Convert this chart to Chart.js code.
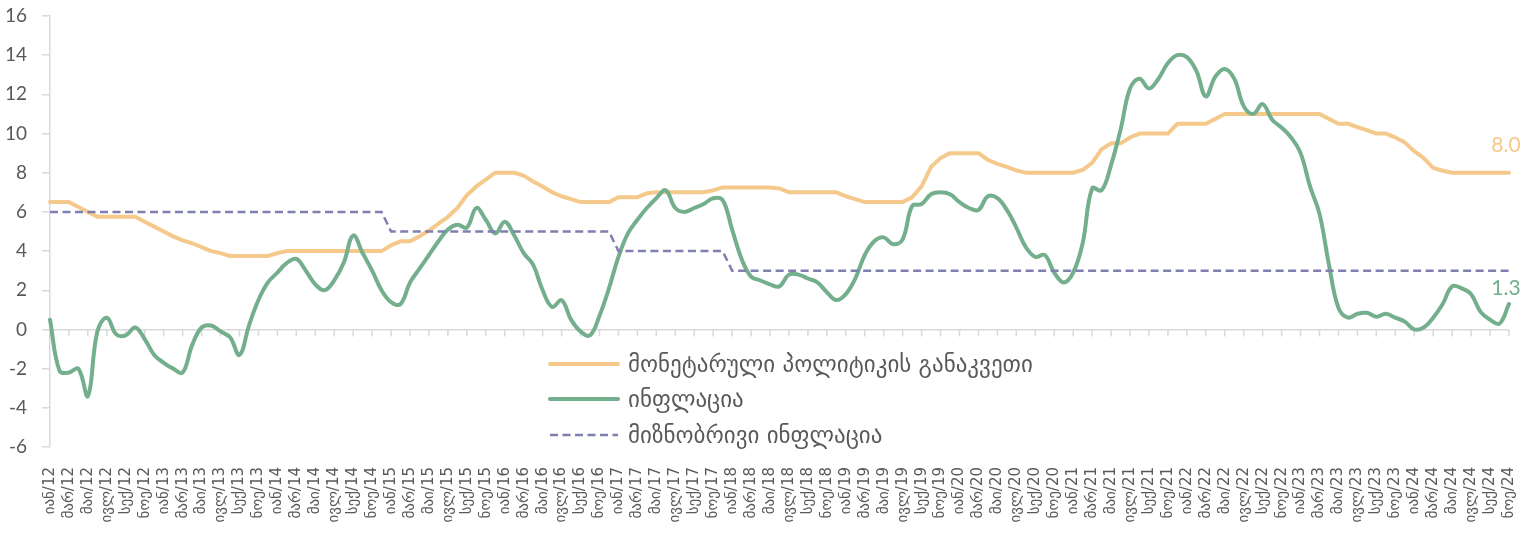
<!DOCTYPE html>
<html lang="ka">
<head>
<meta charset="utf-8">
<title>მონეტარული პოლიტიკის განაკვეთი და ინფლაცია</title>
<script src="https://cdn.jsdelivr.net/npm/chart.js@4.4.1/dist/chart.umd.min.js"></script>
<style>
  html, body { margin: 0; padding: 0; background: #fff; }
  #wrap { position: relative; width: 1526px; height: 538px; }
  #myChart { display: block; }
  #legend {
    position: absolute; left: 548px; top: 346px;
    font-family: "DejaVu Sans", sans-serif; font-size: 23px; color: #595959;
  }
  #legend .item { display: flex; align-items: center; height: 35.5px; white-space: nowrap; }
  #legend svg { margin-right: 8px; }
</style>
</head>
<body>
<div id="wrap">
  <canvas id="myChart" width="1526" height="538"></canvas>
  <div id="legend"></div>
</div>
<script>
// month names and years for the category axis (Jan 2012 - Nov 2024)
const monthNames = ["იან", "თებ", "მარ", "აპრ", "მაი", "ივნ", "ივლ", "აგვ", "სექ", "ოქტ", "ნოე", "დეკ"];
const years = ["12", "13", "14", "15", "16", "17", "18", "19", "20", "21", "22", "23", "24"];
const monthsInLastYear = 11;

const seriesNames = ["მონეტარული პოლიტიკის განაკვეთი", "ინფლაცია", "მიზნობრივი ინფლაცია"];

// monetary policy rate, %, one row per year
const policyRate = [
    6.5, 6.5, 6.5, 6.25, 6.0, 5.75, 5.75, 5.75, 5.75, 5.75, 5.5, 5.25,
    5.0, 4.75, 4.55, 4.4, 4.2, 4.0, 3.9, 3.75, 3.75, 3.75, 3.75, 3.75,
    3.9, 4.0, 4.0, 4.0, 4.0, 4.0, 4.0, 4.0, 4.0, 4.0, 4.0, 4.0,
    4.3, 4.5, 4.5, 4.75, 5.05, 5.4, 5.75, 6.2, 6.85, 7.3, 7.65, 8.0,
    8.0, 8.0, 7.85, 7.55, 7.3, 7.0, 6.8, 6.65, 6.5, 6.5, 6.5, 6.5,
    6.75, 6.75, 6.75, 6.95, 7.0, 7.0, 7.0, 7.0, 7.0, 7.0, 7.1, 7.25,
    7.25, 7.25, 7.25, 7.25, 7.25, 7.2, 7.0, 7.0, 7.0, 7.0, 7.0, 7.0,
    6.8, 6.65, 6.5, 6.5, 6.5, 6.5, 6.5, 6.75, 7.3, 8.3, 8.75, 9.0,
    9.0, 9.0, 9.0, 8.65, 8.45, 8.3, 8.12, 8.0, 8.0, 8.0, 8.0, 8.0,
    8.0, 8.15, 8.5, 9.2, 9.5, 9.5, 9.8, 10.0, 10.0, 10.0, 10.0, 10.5,
    10.5, 10.5, 10.5, 10.75, 11.0, 11.0, 11.0, 11.0, 11.0, 11.0, 11.0, 11.0,
    11.0, 11.0, 11.0, 10.75, 10.5, 10.5, 10.33, 10.17, 10.0, 10.0, 9.8, 9.55,
    9.1, 8.75, 8.25, 8.1, 8.0, 8.0, 8.0, 8.0, 8.0, 8.0, 8.0
];

// annual inflation, %
const inflation = [
    0.5, -2.1, -2.2, -2.0, -3.4, -0.1, 0.6, -0.25, -0.3, 0.1, -0.5, -1.3,
    -1.7, -2.0, -2.2, -0.8, 0.1, 0.2, -0.1, -0.4, -1.3, 0.2, 1.5, 2.4,
    2.9, 3.4, 3.6, 3.0, 2.3, 2.0, 2.5, 3.4, 4.8, 3.9, 3.0, 2.0,
    1.4, 1.3, 2.4, 3.1, 3.8, 4.5, 5.1, 5.35, 5.2, 6.2, 5.6, 4.9,
    5.5, 4.8, 3.9, 3.3, 2.0, 1.15, 1.5, 0.5, -0.1, -0.3, 0.7, 2.1,
    3.7, 4.9, 5.6, 6.2, 6.7, 7.1, 6.2, 6.0, 6.2, 6.4, 6.7, 6.6,
    5.1, 3.6, 2.7, 2.5, 2.3, 2.2, 2.8, 2.8, 2.6, 2.4, 1.9, 1.5,
    1.8, 2.6, 3.8, 4.5, 4.7, 4.35, 4.6, 6.3, 6.4, 6.9, 7.0, 6.9,
    6.5, 6.2, 6.1, 6.8, 6.7, 6.1, 5.2, 4.2, 3.7, 3.8, 2.9, 2.4,
    2.9, 4.4, 7.2, 7.1, 8.4, 10.2, 12.3, 12.8, 12.3, 12.8, 13.6, 14.0,
    13.9, 13.2, 11.9, 12.9, 13.3, 12.8, 11.4, 11.0, 11.5, 10.7, 10.3, 9.8,
    9.0, 7.3, 5.9, 3.3, 1.1, 0.6, 0.8, 0.85, 0.65, 0.8, 0.6, 0.4,
    0.0, 0.1, 0.6, 1.3, 2.2, 2.1, 1.8, 0.9, 0.5, 0.3, 1.3
];

// inflation target, %
const inflationTarget = [
    6, 6, 6, 6, 6, 6, 6, 6, 6, 6, 6, 6,
    6, 6, 6, 6, 6, 6, 6, 6, 6, 6, 6, 6,
    6, 6, 6, 6, 6, 6, 6, 6, 6, 6, 6, 6,
    5, 5, 5, 5, 5, 5, 5, 5, 5, 5, 5, 5,
    5, 5, 5, 5, 5, 5, 5, 5, 5, 5, 5, 5,
    4, 4, 4, 4, 4, 4, 4, 4, 4, 4, 4, 4,
    3, 3, 3, 3, 3, 3, 3, 3, 3, 3, 3, 3,
    3, 3, 3, 3, 3, 3, 3, 3, 3, 3, 3, 3,
    3, 3, 3, 3, 3, 3, 3, 3, 3, 3, 3, 3,
    3, 3, 3, 3, 3, 3, 3, 3, 3, 3, 3, 3,
    3, 3, 3, 3, 3, 3, 3, 3, 3, 3, 3, 3,
    3, 3, 3, 3, 3, 3, 3, 3, 3, 3, 3, 3,
    3, 3, 3, 3, 3, 3, 3, 3, 3, 3, 3
];

// y axis range
const yMin = -6;
const yMax = 16;
const yStep = 2;

// category labels "იან/12" ...
const categories = [];
years.forEach(function (yr, k) {
    const count = k === years.length - 1 ? monthsInLastYear : 12;
    for (let m = 0; m < count; m++) {
        categories.push(monthNames[m] + "/" + yr);
    }
});

const axisGray = "#d9d9d9";
const textGray = "#595959";

// small tick marks under the zero line, every second month
const zeroLineTicks = {
    id: "zeroLineTicks",
    beforeDatasetsDraw(chart) {
        const { ctx, scales } = chart;
        const y0 = scales.y.getPixelForValue(0);
        ctx.save();
        ctx.strokeStyle = axisGray;
        ctx.lineWidth = 1.5;
        ctx.beginPath();
        for (let i = 0; i < categories.length; i += 2) {
            const px = scales.x.getPixelForValue(i);
            ctx.moveTo(px, y0);
            ctx.lineTo(px, y0 + 7);
        }
        ctx.stroke();
        ctx.restore();
    }
};

// value of the latest month above the end of a line
const endLabels = {
    id: "endLabels",
    afterDatasetsDraw(chart, args, opts) {
        const ctx = chart.ctx;
        ctx.save();
        ctx.font = "21px Lato, sans-serif";
        ctx.textAlign = "center";
        ctx.textBaseline = "middle";
        chart.data.datasets.forEach(function (ds, i) {
            const lift = opts.lift[i];
            if (lift == null) return;
            const pts = chart.getDatasetMeta(i).data;
            const last = pts[pts.length - 1];
            ctx.fillStyle = ds.borderColor;
            ctx.fillText(ds.data[ds.data.length - 1].toFixed(1), last.x - 3, last.y - lift);
        });
        ctx.restore();
    }
};

// legend as html list built from the datasets
const htmlLegend = {
    id: "htmlLegend",
    afterUpdate(chart) {
        const box = document.getElementById("legend");
        box.innerHTML = "";
        chart.data.datasets.forEach(function (ds) {
            const row = document.createElement("div");
            row.className = "item";
            const dash = (ds.borderDash || []).join(" ");
            row.innerHTML =
                '<svg width="72" height="10"><line x1="2" y1="5" x2="70" y2="5" stroke="' + ds.borderColor +
                '" stroke-width="' + ds.borderWidth + '" stroke-linecap="' + (dash ? "butt" : "round") +
                '" stroke-dasharray="' + dash + '"/></svg>';
            const text = document.createElement("span");
            text.textContent = ds.label;
            row.appendChild(text);
            box.appendChild(row);
        });
    }
};

new Chart("myChart", {
    type: "line",
    data: {
        labels: categories,
        datasets: [{
            label: seriesNames[0],
            data: policyRate,
            borderColor: "#F4C98B",
            borderWidth: 4,
            borderCapStyle: "round",
            borderJoinStyle: "round",
            tension: 0,
            pointRadius: 0,
            order: 3
        }, {
            label: seriesNames[1],
            data: inflation,
            borderColor: "#74AF8D",
            borderWidth: 4,
            borderCapStyle: "round",
            tension: 0.4,
            pointRadius: 0,
            order: 2
        }, {
            label: seriesNames[2],
            data: inflationTarget,
            borderColor: "#7F7FB2",
            borderWidth: 2.5,
            borderDash: [8, 4.5],
            tension: 0,
            pointRadius: 0,
            order: 1
        }]
    },
    options: {
        responsive: false,
        animation: false,
        devicePixelRatio: 1,
        layout: { padding: { top: 16, right: 17, left: 0, bottom: 0 } },
        plugins: {
            legend: { display: false },
            tooltip: { enabled: false },
            endLabels: { lift: [27, 16, null] }
        },
        scales: {
            x: {
                grid: { display: false },
                border: { display: false },
                ticks: {
                    autoSkip: false,
                    minRotation: 90,
                    maxRotation: 90,
                    padding: 12,
                    color: textGray,
                    font: { family: "'DejaVu Sans', sans-serif", size: 15 },
                    callback: function (val, i) {
                        return i % 2 === 0 ? this.getLabelForValue(val) : null;
                    }
                },
                // fixed axis height; outer padding comes from layout.padding
                afterFit: function (scale) {
                    scale.height = 91;
                    scale.paddingLeft = 0;
                    scale.paddingRight = 0;
                }
            },
            y: {
                min: yMin,
                max: yMax,
                grid: {
                    color: function (c) { return c.tick && c.tick.value === 0 ? axisGray : "rgba(0,0,0,0)"; },
                    tickColor: axisGray,
                    tickLength: 8,
                    lineWidth: 1.5
                },
                border: { display: true, color: axisGray, width: 1.5 },
                ticks: {
                    stepSize: yStep,
                    padding: 15,
                    color: textGray,
                    font: { family: "Lato, sans-serif", size: 19 }
                },
                afterFit: function (scale) {
                    scale.width = 50;
                    scale.paddingTop = 0;
                    scale.paddingBottom = 0;
                }
            }
        }
    },
    plugins: [zeroLineTicks, endLabels, htmlLegend]
});
</script>
</body>
</html>
